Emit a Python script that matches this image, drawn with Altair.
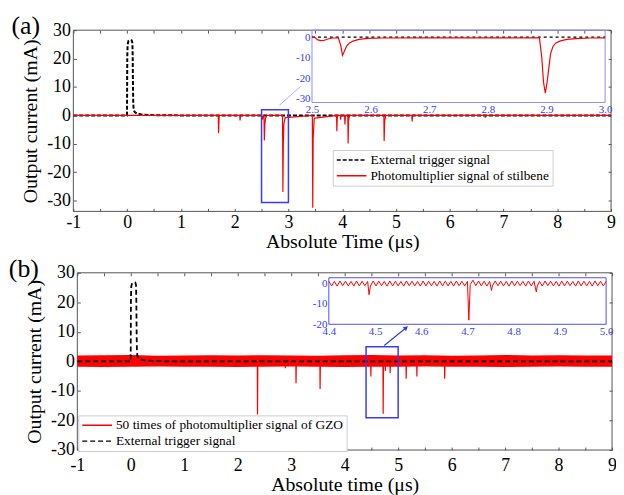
import altair as alt
import pandas as pd

# ---------------- data ----------------
# panel (a): external trigger (black dashed)
trigA_t = [-1.0, -0.002, 0.000, 0.003, 0.010, 0.025, 0.050, 0.085, 0.098, 0.104,
           0.109, 0.114, 0.122, 0.140, 0.180, 0.260, 0.400, 0.600, 1.000, 9.000]
trigA_v = [0.0, 0.0, 10.0, 21.0, 25.0, 26.2, 26.5, 26.4, 25.5, 20.0,
           10.0, 4.0, 2.0, 1.2, 0.7, 0.35, 0.15, 0.05, 0.0, 0.0]

# panel (a): photomultiplier signal of stilbene (red)
sigA_t = [-1.0, 1.695, 1.700, 1.712, 2.095, 2.100, 2.110, 2.505, 2.515, 2.530,
          2.545, 2.552, 2.560, 2.575, 2.600, 2.890, 2.897, 2.905, 2.915, 2.940,
          3.445, 3.452, 3.460, 3.480, 3.895, 3.900, 3.910, 3.965, 3.970, 3.978,
          4.045, 4.050, 4.060, 4.105, 4.110, 4.118, 4.135, 4.775, 4.780, 4.790,
          4.810, 5.295, 5.300, 5.310, 6.655, 6.660, 6.668, 9.0]
sigA_v = [0.0, 0.0, -6.3, 0.0, 0.0, -1.8, 0.0, 0.0, -1.5, -0.3,
          0.0, -8.8, -3.5, -1.0, 0.0, 0.0, -27.0, -10.0, -3.0, -0.8,
          0.0, -32.5, -8.0, -1.0, 0.0, -5.6, 0.0, 0.0, -1.5, 0.0,
          0.0, -3.2, 0.0, 0.0, -9.9, -2.0, 0.0, 0.0, -9.0, -2.0,
          0.0, 0.0, -2.1, 0.0, 0.0, -0.8, 0.0, 0.0]

# inset of panel (a): 2.5 - 3.0 us
insA_t = [2.500, 2.505, 2.510, 2.515, 2.520, 2.527, 2.535, 2.545, 2.549, 2.552,
          2.555, 2.559, 2.564, 2.570, 2.580, 2.595, 2.620, 2.700, 2.800, 2.888,
          2.892, 2.895, 2.898, 2.901, 2.904, 2.907, 2.911, 2.916, 2.924, 2.935,
          2.950, 2.975, 3.000]
insA_v = [0.0, -0.2, -1.3, -1.7, -1.6, -0.9, -0.4, -0.3, -4.0, -8.8,
          -7.0, -4.3, -2.8, -1.9, -1.1, -0.6, -0.4, -0.3, -0.3, -0.3,
          -10.0, -22.0, -27.2, -22.0, -15.0, -8.0, -4.5, -2.8, -1.8, -1.1,
          -0.7, -0.4, -0.3]
insA_trig_t = [2.5, 3.0]
insA_trig_v = [0.0, 0.0]

# panel (b): external trigger
trigB_t = [-1.0, -0.002, 0.000, 0.003, 0.010, 0.025, 0.050, 0.085, 0.098, 0.104,
           0.109, 0.114, 0.122, 0.140, 0.180, 0.260, 0.400, 0.600, 1.000, 9.000]
trigB_v = [0.0, 0.0, 10.0, 21.5, 25.5, 26.5, 26.8, 26.7, 25.8, 20.0,
           10.0, 4.0, 2.0, 1.2, 0.7, 0.35, 0.15, 0.05, 0.0, 0.0]

# panel (b): 50 x photomultiplier signal of GZO, pulses
sigB_t = [-1.0, 2.366, 2.370, 2.376, 2.886, 2.890, 2.896, 3.086, 3.090, 3.096,
          3.536, 3.540, 3.546, 4.486, 4.490, 4.496, 4.646, 4.650, 4.656, 4.716,
          4.720, 4.726, 4.756, 4.760, 4.766, 4.846, 4.850, 4.856, 5.146, 5.150,
          5.156, 5.346, 5.350, 5.356, 5.866, 5.870, 5.876, 9.0]
sigB_v = [0.0, 0.0, -18.0, 0.0, 0.0, -2.3, 0.0, 0.0, -7.4, 0.0,
          0.0, -9.3, 0.0, 0.0, -5.1, 0.0, 0.0, -1.5, 0.0, 0.0,
          -17.7, 0.0, 0.0, -3.2, 0.0, 0.0, -4.0, 0.0, 0.0, -5.9,
          0.0, 0.0, -5.1, 0.0, 0.0, -5.9, 0.0, 0.0]
# panel (b): noise envelope of the signal
bandB_t = [-1.0, -0.5, 0.0, 0.5, 1.0, 1.5, 2.0, 2.5, 3.0, 3.5,
           4.0, 4.5, 5.0, 5.5, 6.0, 6.5, 7.0, 7.5, 8.0, 8.5, 9.0]
bandB_hi = [2.0, 2.1, 2.2, 1.9, 2.0, 2.1, 2.0, 2.1, 2.0, 1.9,
            2.1, 2.2, 2.0, 2.1, 1.9, 2.0, 2.2, 2.0, 2.1, 2.0, 2.0]
bandB_lo = [-1.8, -1.9, -1.8, -1.7, -1.8, -1.8, -1.9, -1.8, -1.7, -1.8,
            -1.9, -1.8, -1.8, -1.7, -1.8, -1.8, -1.9, -1.8, -1.7, -1.8, -1.8]

# inset of panel (b): 4.4 - 5.0 us
insB_t = [4.400, 4.406, 4.412, 4.418, 4.424, 4.430, 4.436, 4.442, 4.448, 4.454,
          4.460, 4.466, 4.472, 4.478, 4.484, 4.487, 4.490, 4.496, 4.502, 4.508,
          4.514, 4.520, 4.526, 4.532, 4.538, 4.544, 4.550, 4.556, 4.562, 4.568,
          4.574, 4.580, 4.586, 4.592, 4.598, 4.604, 4.610, 4.616, 4.622, 4.628,
          4.634, 4.640, 4.646, 4.652, 4.658, 4.664, 4.670, 4.676, 4.682, 4.688,
          4.694, 4.700, 4.703, 4.706, 4.712, 4.718, 4.724, 4.730, 4.736, 4.742,
          4.748, 4.752, 4.754, 4.760, 4.766, 4.772, 4.778, 4.784, 4.790, 4.796,
          4.802, 4.808, 4.814, 4.820, 4.826, 4.832, 4.838, 4.844, 4.849, 4.851,
          4.856, 4.862, 4.868, 4.874, 4.880, 4.886, 4.892, 4.898, 4.904, 4.910,
          4.916, 4.922, 4.928, 4.934, 4.940, 4.946, 4.952, 4.958, 4.964, 4.970,
          4.976, 4.982, 4.988, 4.994, 5.000]
insB_v = [1.1, -1.2, 1.0, -1.3, 1.2, -1.1, 1.1, -1.2, 1.0, -1.3,
          1.2, -1.2, 1.1, -1.1, 1.0, -5.5, -1.3, 1.2, -1.2, 1.1,
          -1.1, 1.0, -1.3, 1.2, -1.2, 1.1, -1.2, 1.0, -1.3, 1.2,
          -1.1, 1.1, -1.2, 1.0, -1.3, 1.2, -1.2, 1.1, -1.1, 1.0,
          -1.3, 1.2, -1.2, 1.1, -1.2, 1.0, -1.3, 1.2, -1.1, 1.1,
          -1.2, 1.0, -18.0, -0.5, 1.6, -1.1, 1.2, -1.2, 1.1, -1.3,
          1.0, -3.4, -1.2, 1.2, -1.1, 1.1, -1.2, 1.0, -1.3, 1.2,
          -1.2, 1.1, -1.1, 1.0, -1.3, 1.2, -1.2, 1.1, -4.2, -1.2,
          1.0, -1.3, 1.2, -1.1, 1.1, -1.2, 1.0, -1.3, 1.2, -1.2,
          1.1, -1.1, 1.0, -1.3, 1.2, -1.2, 1.1, -1.2, 1.0, -1.3,
          1.2, -1.1, 1.1, -1.2, 1.0]

# zoom boxes, connectors
boxA = {"x1": [2.5], "x2": [3.0], "y1": [-30.7], "y2": [2.0]}
boxB = {"x1": [4.4], "x2": [5.0], "y1": [-19.1], "y2": [5.0]}
connA_x = [2.83, 3.22]
connA_y = [3.5, 10.1]
arrowB_x = [4.74, 5.15]
arrowB_y = [5.4, 11.4]

# axis ticks / domains
x_domain = [-1, 9]
x_ticks = [-1, -0.5, 0, 0.5, 1, 1.5, 2, 2.5, 3, 3.5, 4, 4.5, 5, 5.5, 6, 6.5, 7, 7.5, 8, 8.5, 9]
y_ticks = [-30, -20, -10, 0, 10, 20, 30]
yA_domain = [-33.8, 30]
yB_domain = [-30, 30]
insA_xdomain = [2.5, 3.0]
insA_ydomain = [-31.7, 3.4]
insA_xticks = [2.5, 2.6, 2.7, 2.8, 2.9, 3.0]
insA_yticks = [0, -10, -20, -30]
insB_xdomain = [4.4, 5.0]
insB_ydomain = [-20, 2.8]
insB_xticks = [4.4, 4.5, 4.6, 4.7, 4.8, 4.9, 5.0]
insB_yticks = [0, -10, -20]

seriesA = ["External trigger signal", "Photomultiplier signal of stilbene"]
seriesB = ["50 times of photomultiplier signal of GZO", "External trigger signal"]

# ---------------- layout (pixels, relative to plot origin) ----------------
W, H = 544, 424
A_xr, A_yr = [0, 543], [183, 0]
B_xr, B_yr = [4, 544], [424, 245]
IA_xr, IA_yr = [241, 537], [73, 0]
IB_xr, IB_yr = [258, 538], [297, 250]

SERIF = "Liberation Serif"
BLUE = "#3a3aff"
FRAME = "#555555"


def sc(domain, rng):
    return alt.Scale(domain=domain, range=rng, nice=False, zero=False)


def main_axes(xr, yr, xtitle, ytitle, xlabpad):
    bottom = yr[0]
    left = xr[0]
    xa = alt.Axis(orient="bottom", offset=(bottom - 3) - H, values=x_ticks,
                  labelExpr="datum.value % 1 == 0 ? '' + datum.value : ''",
                  labelOverlap=False, labelFlush=False, grid=False,
                  domain=False, tickSize=3, tickColor=FRAME, labelPadding=xlabpad,
                  labelFont=SERIF, labelFontSize=18, labelColor="black",
                  title=xtitle, titleFont=SERIF, titleFontSize=20,
                  titleFontWeight="normal", titleColor="black", titlePadding=0)
    ya = alt.Axis(orient="left", offset=-(left + 3), values=y_ticks,
                  labelExpr="'' + datum.value", labelOverlap=False, grid=False,
                  domain=False, tickSize=3, tickColor=FRAME, labelPadding=3,
                  labelFont=SERIF, labelFontSize=18, labelColor="black",
                  title=ytitle, titleFont=SERIF, titleFontSize=20,
                  titleFontWeight="normal", titleColor="black", titlePadding=6)
    return xa, ya


def mirror_layer(xdom, ydom, xr, yr):
    df = pd.DataFrame({"x": xdom, "y": ydom})
    return alt.Chart(df).mark_point(opacity=0).encode(
        x=alt.X("x:Q", scale=sc(xdom, xr),
                axis=alt.Axis(orient="top", offset=-(yr[1] + 3), values=x_ticks,
                              labels=False, domain=False, tickSize=3, grid=False,
                              tickColor=FRAME, title=None)),
        y=alt.Y("y:Q", scale=sc(ydom, yr),
                axis=alt.Axis(orient="right", offset=(xr[1] - 3) - W, values=y_ticks,
                              labels=False, domain=False, tickSize=3, grid=False,
                              tickColor=FRAME, title=None)),
    )


def frame_layer(xdom, ydom, xs, ys, xa, ya, color, width=1.0):
    df = pd.DataFrame({"x1": [xdom[0]], "x2": [xdom[1]], "y1": [ydom[0]], "y2": [ydom[1]]})
    return alt.Chart(df).mark_rect(fillOpacity=0, stroke=color, strokeWidth=width).encode(
        x=alt.X("x1:Q", scale=xs, axis=xa), x2="x2:Q",
        y=alt.Y("y1:Q", scale=ys, axis=ya), y2="y2:Q")


def inset_axes(xr, yr, xticks, yticks):
    xa = alt.Axis(orient="bottom", offset=yr[0] - H, values=xticks,
                  labelExpr="format(datum.value, '.1f')", labelOverlap=False,
                  labelFlush=False, domain=False, ticks=False, labelPadding=1,
                  grid=False, labelFont=SERIF, labelFontSize=11,
                  labelColor=BLUE, title=None)
    ya = alt.Axis(orient="left", offset=-xr[0], values=yticks,
                  labelExpr="'' + datum.value", labelOverlap=False, grid=False,
                  domain=False, ticks=False, labelPadding=2,
                  labelFont=SERIF, labelFontSize=11, labelColor=BLUE, title=None)
    return xa, ya


def legend(x, y):
    # a 30 px long line symbol, rows as tall as the text
    return alt.Legend(orient="none", legendX=x, legendY=y, title=None,
                      symbolType="M-1,0H4", symbolSize=144,
                      symbolStrokeWidth=1.5, labelFont=SERIF, labelFontSize=13.5,
                      labelColor="black", fillColor="white", strokeColor="#cccccc",
                      padding=3, rowPadding=2, labelOffset=21, labelLimit=400)


def text_layer(label, x, y):
    return alt.Chart(pd.DataFrame({"t": [label]})).mark_text(
        font=SERIF, fontSize=26, align="center", baseline="middle", color="black"
    ).encode(text="t:N", x=alt.value(x), y=alt.value(y))


# ---------------- panel (a) ----------------
xsA, ysA = sc(x_domain, A_xr), sc(yA_domain, A_yr)
xaA, yaA = main_axes(A_xr, A_yr, "Absolute Time  (μs)", "Output current  (mA)", 2)
legA = legend(262, 121)
colA = alt.Color("series:N", scale=alt.Scale(domain=seriesA, range=["black", "red"]), legend=legA)
dashA = alt.StrokeDash("series:N", scale=alt.Scale(domain=seriesA, range=[[4, 2], [1, 0]]), legend=legA)

dfTA = pd.DataFrame({"t": trigA_t, "v": trigA_v, "series": seriesA[0]})
dfSA = pd.DataFrame({"t": sigA_t, "v": sigA_v, "series": seriesA[1]})

trigA = alt.Chart(dfTA).mark_line(strokeWidth=2).encode(
    x=alt.X("t:Q", scale=xsA, axis=xaA), y=alt.Y("v:Q", scale=ysA, axis=yaA),
    color=colA, strokeDash=dashA)
sigA = alt.Chart(dfSA).mark_line(strokeWidth=1.2).encode(
    x=alt.X("t:Q", scale=xsA, axis=xaA), y=alt.Y("v:Q", scale=ysA, axis=yaA),
    color=colA, strokeDash=dashA)
boxA_l = alt.Chart(pd.DataFrame(boxA)).mark_rect(fillOpacity=0, stroke=BLUE, strokeWidth=1.5).encode(
    x=alt.X("x1:Q", scale=xsA, axis=xaA), x2="x2:Q",
    y=alt.Y("y1:Q", scale=ysA, axis=yaA), y2="y2:Q")
connA = alt.Chart(pd.DataFrame({"x": connA_x, "y": connA_y})).mark_line(
    color="#aab2ff", strokeWidth=1).encode(
    x=alt.X("x:Q", scale=xsA, axis=xaA), y=alt.Y("y:Q", scale=ysA, axis=yaA))
coreA = alt.layer(frame_layer(x_domain, yA_domain, xsA, ysA, xaA, yaA, FRAME),
                  trigA, sigA, boxA_l, connA, text_layer("(a)", -48, -4))

xsIA, ysIA = sc(insA_xdomain, IA_xr), sc(insA_ydomain, IA_yr)
xaIA, yaIA = inset_axes(IA_xr, IA_yr, insA_xticks, insA_yticks)
insA_sig = alt.Chart(pd.DataFrame({"t": insA_t, "v": insA_v})).mark_line(
    color="red", strokeWidth=1.2).encode(
    x=alt.X("t:Q", scale=xsIA, axis=xaIA), y=alt.Y("v:Q", scale=ysIA, axis=yaIA))
insA_trig = alt.Chart(pd.DataFrame({"t": insA_trig_t, "v": insA_trig_v})).mark_line(
    color="black", strokeWidth=1.2, strokeDash=[3, 3]).encode(
    x=alt.X("t:Q", scale=xsIA, axis=xaIA), y=alt.Y("v:Q", scale=ysIA, axis=yaIA))
insetA = alt.layer(frame_layer(insA_xdomain, insA_ydomain, xsIA, ysIA, xaIA, yaIA, "#8c8cff"),
                   insA_trig, insA_sig)

panelA = alt.layer(coreA, mirror_layer(x_domain, yA_domain, A_xr, A_yr), insetA).resolve_scale(
    x="independent", y="independent")

# ---------------- panel (b) ----------------
xsB, ysB = sc(x_domain, B_xr), sc(yB_domain, B_yr)
xaB, yaB = main_axes(B_xr, B_yr, "Absolute time (μs)", "Output current (mA)", 7)
legB = legend(5, 389)
colB = alt.Color("series:N", scale=alt.Scale(domain=seriesB, range=["red", "black"]), legend=legB)
dashB = alt.StrokeDash("series:N", scale=alt.Scale(domain=seriesB, range=[[1, 0], [5, 3]]), legend=legB)

dfBand = pd.DataFrame({"t": bandB_t, "hi": bandB_hi, "lo": bandB_lo})
bandB = alt.Chart(dfBand).mark_area(color="red", opacity=1).encode(
    x=alt.X("t:Q", scale=xsB, axis=xaB), y=alt.Y("lo:Q", scale=ysB, axis=yaB), y2="hi:Q")
dfSB = pd.DataFrame({"t": sigB_t, "v": sigB_v, "series": seriesB[0]})
dfTB = pd.DataFrame({"t": trigB_t, "v": trigB_v, "series": seriesB[1]})
sigB = alt.Chart(dfSB).mark_line(strokeWidth=1.2).encode(
    x=alt.X("t:Q", scale=xsB, axis=xaB), y=alt.Y("v:Q", scale=ysB, axis=yaB),
    color=colB, strokeDash=dashB)
trigB = alt.Chart(dfTB).mark_line(strokeWidth=1.8).encode(
    x=alt.X("t:Q", scale=xsB, axis=xaB), y=alt.Y("v:Q", scale=ysB, axis=yaB),
    color=colB, strokeDash=dashB)
boxB_l = alt.Chart(pd.DataFrame(boxB)).mark_rect(fillOpacity=0, stroke=BLUE, strokeWidth=1.5).encode(
    x=alt.X("x1:Q", scale=xsB, axis=xaB), x2="x2:Q",
    y=alt.Y("y1:Q", scale=ysB, axis=yaB), y2="y2:Q")
dfArr = pd.DataFrame({"x": arrowB_x, "y": arrowB_y})
arrB = alt.Chart(dfArr).mark_line(color="#2a40e0", strokeWidth=1.2).encode(
    x=alt.X("x:Q", scale=xsB, axis=xaB), y=alt.Y("y:Q", scale=ysB, axis=yaB))
arrHead = alt.Chart(dfArr.tail(1)).mark_point(
    shape="triangle-up", filled=True, size=28, angle=51, color="#2a40e0", opacity=1).encode(
    x=alt.X("x:Q", scale=xsB, axis=xaB), y=alt.Y("y:Q", scale=ysB, axis=yaB))
coreB = alt.layer(frame_layer(x_domain, yB_domain, xsB, ysB, xaB, yaB, FRAME),
                  bandB, sigB, trigB, boxB_l, arrB, arrHead, text_layer("(b)", -50, 241))

xsIB, ysIB = sc(insB_xdomain, IB_xr), sc(insB_ydomain, IB_yr)
xaIB, yaIB = inset_axes(IB_xr, IB_yr, insB_xticks, insB_yticks)
insB_sig = alt.Chart(pd.DataFrame({"t": insB_t, "v": insB_v})).mark_line(
    color="red", strokeWidth=1).encode(
    x=alt.X("t:Q", scale=xsIB, axis=xaIB), y=alt.Y("v:Q", scale=ysIB, axis=yaIB))
insetB = alt.layer(frame_layer(insB_xdomain, insB_ydomain, xsIB, ysIB, xaIB, yaIB, "#4d4dff"),
                   insB_sig)

panelB = alt.layer(coreB, mirror_layer(x_domain, yB_domain, B_xr, B_yr), insetB).resolve_scale(
    x="independent", y="independent")

chart = alt.layer(panelA, panelB).resolve_scale(
    x="independent", y="independent", color="independent", strokeDash="independent"
).properties(
    width=W, height=H,
    autosize=alt.AutoSizeParams(type="none"),
    padding={"left": 66, "top": 20, "right": 4, "bottom": 43},
).configure_view(stroke=None).configure_axis(
    labelFont=SERIF, titleFont=SERIF, grid=False
).configure_legend(labelFont=SERIF).configure_text(font=SERIF)

chart.save("out.html", embed_options={"renderer": "svg", "actions": False})
